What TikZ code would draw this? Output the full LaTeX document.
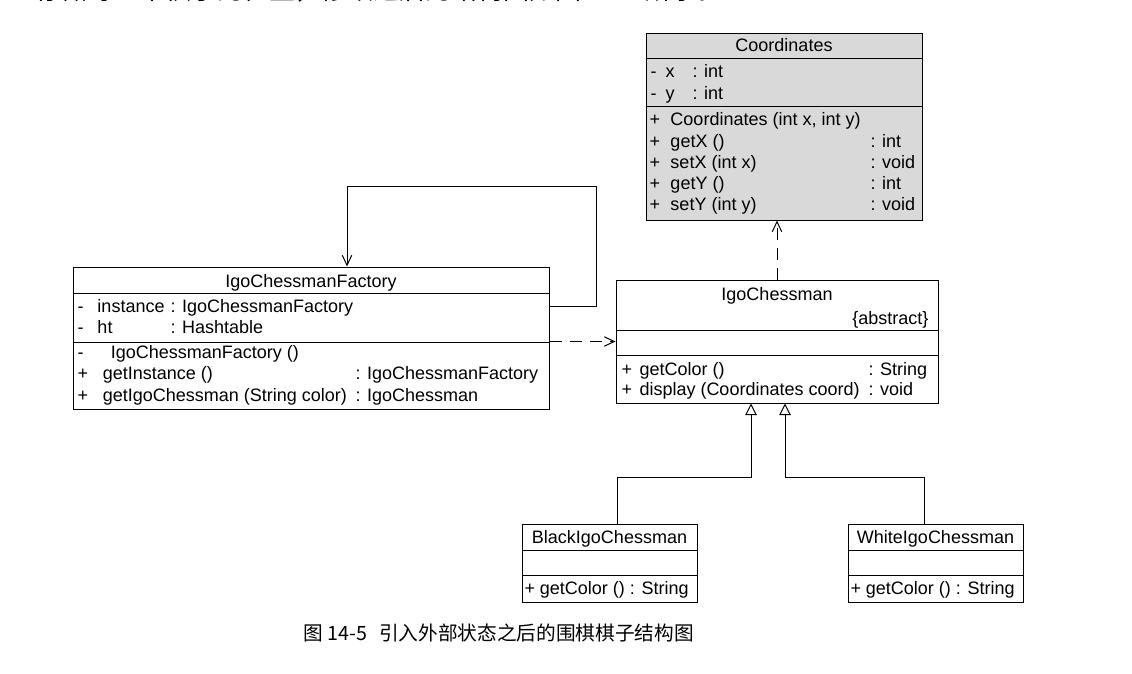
\documentclass[tikz,border=0pt]{standalone}
\usepackage{fontspec}
\setmainfont{Liberation Sans}
\newfontfamily\cjk{Noto Sans CJK SC}
\usetikzlibrary{arrows.meta,fit}
\tikzset{every picture/.style={line width=0.75pt}}
\tikzset{
  classbox/.style={draw, inner sep=0pt, fill=white},
  umltext/.style={anchor=base west, inner sep=0.75pt, font=\umlfont},
  dep/.style={dash pattern=on 9pt off 6pt, -{Straight Barb[length=7.5pt,width=7pt]}},
  assoc/.style={-{Straight Barb[length=7.5pt,width=7pt]}},
  inherit/.style={-{Triangle[open,length=8.75pt,width=8.75pt,fill=white]}},
}
\newcommand\umlfont{\fontsize{13.5pt}{16pt}\selectfont}
\newcommand\vis[2][15pt]{\makebox[#1][l]{#2}}

\begin{document}
\begin{tikzpicture}[x=0.75pt,y=0.75pt,yscale=-1,xscale=1]
\useasboundingbox (0,0) rectangle (1132,674);

% Text Node (cut line of the page above)
\node[anchor=base west, inner sep=0pt, font=\cjk\fontsize{19.5pt}{22pt}\selectfont] (topline) at (35,0) {存储每一个棋子的位置，修改之后的结构图如图 14-6 所示。};

%Shape: Rectangle (Coordinates)
\node[classbox, fill=black!15, fit={(646,34) (922,220)}] (coordbox) {};
\draw (646,59) -- (922,59) ;
\draw (646,107) -- (922,107) ;
% Text Node
\node[umltext, anchor=base] (coordtitle) at (784,52) {Coordinates};
\node[umltext] (coordx) at (649,78) {\vis[11.25pt]{-}\makebox[20.25pt][l]{x}: int};
\node[umltext] (coordy) at (649,99) {\vis[11.25pt]{-}\makebox[20.25pt][l]{y}: int};
\node[umltext] (coordm1) at (648,126) {\vis[15.75pt]{+}Coordinates (int x, int y)};
\node[umltext] (coordm2) at (648,147) {\vis[15.75pt]{+}getX ()};
\node[umltext] (coordm3) at (648,168) {\vis[15.75pt]{+}setX (int x)};
\node[umltext] (coordm4) at (648,189) {\vis[15.75pt]{+}getY ()};
\node[umltext] (coordm5) at (648,210) {\vis[15.75pt]{+}setY (int y)};
\node[umltext] (coordt2) at (869,147) {: int};
\node[umltext] (coordt3) at (869,168) {: void};
\node[umltext] (coordt4) at (869,189) {: int};
\node[umltext] (coordt5) at (869,210) {: void};

%Shape: Rectangle (IgoChessmanFactory)
\node[classbox, fit={(73,267) (549,409)}] (factorybox) {};
\draw (73,293) -- (549,293) ;
\draw (73,342) -- (549,342) ;
% Text Node
\node[umltext, anchor=base] (factorytitle) at (311,287) {IgoChessmanFactory};
\node[umltext] (factorya1) at (76,312) {\vis{-}instance};
\node[umltext] (factorya2) at (76,333) {\vis{-}ht};
\node[umltext] (factoryt1) at (169,312) {: IgoChessmanFactory};
\node[umltext] (factoryt2) at (169,333) {: Hashtable};
\node[umltext] (factorym1) at (76,358) {\vis[25pt]{-}IgoChessmanFactory ()};
\node[umltext] (factorym2) at (76,379) {\vis[19pt]{+}getInstance ()};
\node[umltext] (factorym3) at (76,401) {\vis[19pt]{+}getIgoChessman (String color)};
\node[umltext] (factoryt4) at (354,379) {: IgoChessmanFactory};
\node[umltext] (factoryt5) at (354,401) {: IgoChessman};

%Shape: Rectangle (IgoChessman)
\node[classbox, fit={(616,280) (938,403)}] (chessbox) {};
\draw (616,330) -- (938,330) ;
\draw (616,355) -- (938,355) ;
% Text Node
\node[umltext, anchor=base] (chesstitle) at (777,300) {IgoChessman};
\node[umltext, anchor=base east] (chessabs) at (930,324) {\{abstract\}};
\node[umltext] (chessm1) at (620,375) {\vis[13.5pt]{+}getColor ()};
\node[umltext] (chessm2) at (620,395) {\vis[13.5pt]{+}display (Coordinates coord)};
\node[umltext] (chesst1) at (867,375) {: String};
\node[umltext] (chesst2) at (867,395) {: void};

%Shape: Rectangle (BlackIgoChessman)
\node[classbox, fit={(522,524) (697,602)}] (blackbox) {};
\draw (522,550) -- (697,550) ;
\draw (522,575) -- (697,575) ;
\node[umltext, anchor=base] (blacktitle) at (609.5,543) {BlackIgoChessman};
\node[umltext] (blackm1) at (523,594) {\vis[11.5pt]{+}getColor () : String};

%Shape: Rectangle (WhiteIgoChessman)
\node[classbox, fit={(848,524) (1023,602)}] (whitebox) {};
\draw (848,550) -- (1023,550) ;
\draw (848,575) -- (1023,575) ;
\node[umltext, anchor=base] (whitetitle) at (935.5,543) {WhiteIgoChessman};
\node[umltext] (whitem1) at (849,594) {\vis[11.5pt]{+}getColor () : String};

%Straight Lines (self association)
\coordinate (loopR) at (596,306);
\coordinate (loopL) at (347,186);
\draw[assoc] (loopR -| factorybox.east) -- (loopR) |- (loopL) -- (loopL |- factorybox.north) ;
%Straight Lines (dependencies)
\draw[dep] (factorybox.east |- chessbox.west) -- (chessbox.west) ;
\draw[dep] (chessbox.north) -- (chessbox.north |- coordbox.south) ;
%Straight Lines (generalization)
\coordinate (blackturn) at (617,477);
\coordinate (blackup) at (751,477);
\coordinate (whiteturn) at (924,477);
\coordinate (whiteup) at (785,477);
\draw[inherit] (blackturn |- blackbox.north) -- (blackturn) -- (blackup) -- (blackup |- chessbox.south) ;
\draw[inherit] (whiteturn |- whitebox.north) -- (whiteturn) -- (whiteup) -- (whiteup |- chessbox.south) ;

% Text Node (caption)
\node[anchor=base west, inner sep=0pt, font=\cjk\fontsize{14.75pt}{16pt}\selectfont] (caption) at (303,640) {图 14-5\hspace{9pt}引入外部状态之后的围棋棋子结构图};

\end{tikzpicture}
\end{document}
